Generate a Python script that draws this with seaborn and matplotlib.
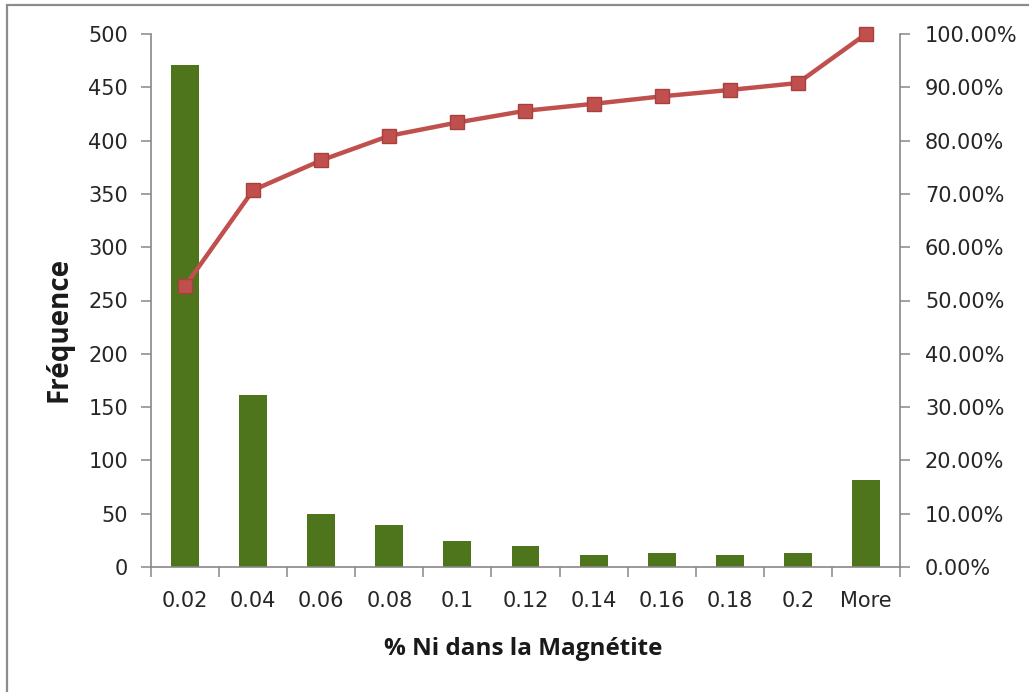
import matplotlib
matplotlib.use("Agg")
import matplotlib.pyplot as plt
import matplotlib.patches as mpatches
from matplotlib.ticker import FixedLocator, PercentFormatter
import seaborn as sns
import pandas as pd

# Histogram bins and counts, with the cumulative share per bin
bins = ["0.02", "0.04", "0.06", "0.08", "0.1", "0.12", "0.14", "0.16", "0.18", "0.2", "More"]
frequence = [471, 161, 50, 39, 24, 20, 11, 13, 11, 13, 82]
cumul_pct = [52.7, 70.7, 76.3, 80.9, 83.4, 85.6, 86.9, 88.3, 89.5, 90.8, 100.0]

df = pd.DataFrame({"bin": bins, "freq": frequence, "cum": cumul_pct})

sns.set_theme(style="white")
plt.rcParams["font.family"] = ["DejaVu Sans"]

BAR = "#4E741C"
LINE = "#C0504D"
AXIS = "#878787"
TXT = "#262626"

fig = plt.figure(figsize=(10.29, 6.92), dpi=100)
ax = fig.add_axes([151 / 1029, 1 - 567 / 692, (900 - 151) / 1029, (567 - 34) / 692])

sns.barplot(data=df, x="bin", y="freq", color=BAR, width=0.41,
            saturation=1, ax=ax, edgecolor="none")
ax.set_xlim(-0.5, len(bins) - 0.5)
ax.set_ylim(0, 500)
ax.set_yticks(range(0, 501, 50))

ax2 = ax.twinx()
sns.pointplot(data=df, x="bin", y="cum", color=LINE, markers="s",
              linestyles="-", ax=ax2, markersize=10, linewidth=3.2,
              markeredgecolor="#A8403D", markeredgewidth=1.0)
ax2.set_xlim(-0.5, len(bins) - 0.5)
ax2.set_ylim(0, 100)
ax2.set_yticks(range(0, 101, 10))
ax2.yaxis.set_major_formatter(PercentFormatter(decimals=2))
for art in ax2.lines + ax2.collections:
    art.set_clip_on(False)

for a in (ax, ax2):
    for s in a.spines.values():
        s.set_visible(False)
    a.set_facecolor("none")
    a.grid(False)

ax.spines["left"].set_visible(True)
ax.spines["bottom"].set_visible(True)
ax2.spines["right"].set_visible(True)
for s in (ax.spines["left"], ax.spines["bottom"], ax2.spines["right"]):
    s.set_color(AXIS)
    s.set_linewidth(1.2)

ax.tick_params(axis="y", left=True, length=7, width=1.1, color=AXIS,
               labelsize=15, labelcolor=TXT, pad=9.5)
ax2.tick_params(axis="y", right=True, length=7, width=1.1, color=AXIS,
                labelsize=15, labelcolor=TXT, pad=11)
# category labels centred, ticks on the bin boundaries
ax.xaxis.set_minor_locator(FixedLocator([i - 0.5 for i in range(len(bins) + 1)]))
ax.tick_params(axis="x", which="major", bottom=False, length=0,
               labelsize=15, labelcolor=TXT, pad=17)
ax.tick_params(axis="x", which="minor", bottom=True, length=7, width=1.1, color=AXIS)

ax.set_xlabel("% Ni dans la Magnétite", fontsize=17.5, fontweight="bold",
              family="Open Sans", color="#1a1a1a")
ax.set_ylabel("Fréquence", fontsize=20, fontweight="bold",
              family="Open Sans", color="#1a1a1a")
ax2.set_ylabel("")
ax.xaxis.set_label_coords(0.497, -0.132)
ax.yaxis.set_label_coords(-0.104, 0.445)

# chart frame
frame = mpatches.Rectangle((7 / 1029, -0.05), 1.1, 1 - 5 / 692 + 0.05,
                           transform=fig.transFigure, fill=False,
                           edgecolor="#8c8c8c", linewidth=1.6)
fig.patches.append(frame)

fig.savefig("out.png", dpi=100, facecolor="white")
